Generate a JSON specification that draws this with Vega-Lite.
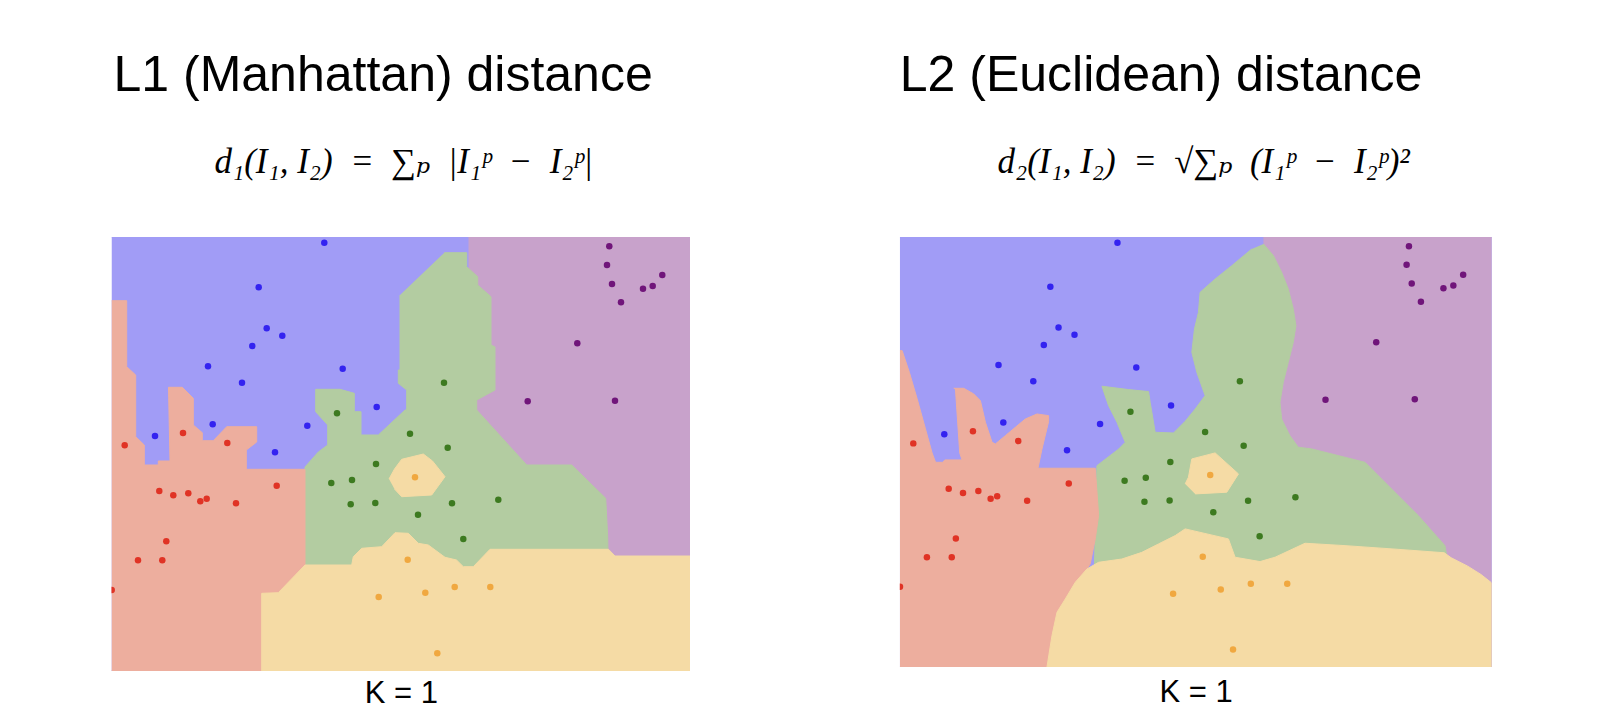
{
  "$schema": "https://vega.github.io/schema/vega-lite/v6.json",
  "background": "white",
  "padding": {"left": 111.5, "top": 51, "right": 0, "bottom": 0},
  "autosize": {"type": "pad"},
  "spacing": 209.3,
  "config": {"view": {"stroke": null}},
  "datasets": {
    "pts": [
      {"c": "blue", "x": 212.8, "y": 5.7}, {"c": "blue", "x": 147.2, "y": 50.3}, {"c": "blue", "x": 155.2, "y": 91.3}, {"c": "blue", "x": 170.8, "y": 98.7}, {"c": "blue", "x": 140.8, "y": 109}, {"c": "blue", "x": 96.5, "y": 129.3}, {"c": "blue", "x": 231.2, "y": 131.7}, {"c": "blue", "x": 130.5, "y": 145.7}, {"c": "blue", "x": 265.2, "y": 170}, {"c": "blue", "x": 101.2, "y": 187.3}, {"c": "blue", "x": 195.8, "y": 188.7}, {"c": "blue", "x": 43.5, "y": 199}, {"c": "blue", "x": 163.5, "y": 215.3},
      {"c": "purple", "x": 497.8, "y": 9.3}, {"c": "purple", "x": 495.5, "y": 28}, {"c": "purple", "x": 500.5, "y": 47}, {"c": "purple", "x": 550.8, "y": 38}, {"c": "purple", "x": 541.2, "y": 49}, {"c": "purple", "x": 531.5, "y": 51.7}, {"c": "purple", "x": 509.5, "y": 65.3}, {"c": "purple", "x": 465.8, "y": 106.3}, {"c": "purple", "x": 416.2, "y": 164.3}, {"c": "purple", "x": 503.5, "y": 163.7},
      {"c": "green", "x": 225.5, "y": 176.3}, {"c": "green", "x": 332.5, "y": 145.7}, {"c": "green", "x": 298.5, "y": 196.7}, {"c": "green", "x": 336.2, "y": 210.7}, {"c": "green", "x": 264.5, "y": 227}, {"c": "green", "x": 219.8, "y": 246}, {"c": "green", "x": 240.5, "y": 243}, {"c": "green", "x": 239.2, "y": 267.3}, {"c": "green", "x": 263.8, "y": 266}, {"c": "green", "x": 340.5, "y": 266.3}, {"c": "green", "x": 306.5, "y": 277.7}, {"c": "green", "x": 386.8, "y": 262.7}, {"c": "green", "x": 351.8, "y": 302},
      {"c": "red", "x": 13.2, "y": 208.3}, {"c": "red", "x": 71.5, "y": 196}, {"c": "red", "x": 115.8, "y": 206}, {"c": "red", "x": 47.8, "y": 254}, {"c": "red", "x": 61.8, "y": 258.3}, {"c": "red", "x": 76.8, "y": 256.3}, {"c": "red", "x": 88.8, "y": 264.3}, {"c": "red", "x": 95.2, "y": 261.7}, {"c": "red", "x": 124.5, "y": 266.3}, {"c": "red", "x": 165.2, "y": 248.7}, {"c": "red", "x": 54.8, "y": 304.3}, {"c": "red", "x": 26.5, "y": 323.3}, {"c": "red", "x": 50.8, "y": 323.3}, {"c": "red", "x": 0.2, "y": 353},
      {"c": "orange", "x": 303.5, "y": 240.3}, {"c": "orange", "x": 296.2, "y": 322.7}, {"c": "orange", "x": 313.8, "y": 355.7}, {"c": "orange", "x": 343.2, "y": 350}, {"c": "orange", "x": 378.8, "y": 350}, {"c": "orange", "x": 325.8, "y": 416.3}, {"c": "orange", "x": 267.2, "y": 360}
    ],
    "l1": [
      {"r": "a", "i": 0, "x": 0, "y": 0}, {"r": "a", "i": 1, "x": 578.5, "y": 0}, {"r": "a", "i": 2, "x": 578.5, "y": 434}, {"r": "a", "i": 3, "x": 0, "y": 434},
      {"r": "b", "i": 0, "x": 357, "y": 0}, {"r": "b", "i": 1, "x": 578.5, "y": 0}, {"r": "b", "i": 2, "x": 578.5, "y": 434}, {"r": "b", "i": 3, "x": 357, "y": 434},
      {"r": "c", "i": 0, "x": 332.8, "y": 15.7}, {"r": "c", "i": 1, "x": 355.2, "y": 15.7}, {"r": "c", "i": 2, "x": 355.2, "y": 29.7}, {"r": "c", "i": 3, "x": 366.2, "y": 39.7}, {"r": "c", "i": 4, "x": 366.2, "y": 48}, {"r": "c", "i": 5, "x": 379.5, "y": 59.7}, {"r": "c", "i": 6, "x": 379.5, "y": 108}, {"r": "c", "i": 7, "x": 383.5, "y": 110}, {"r": "c", "i": 8, "x": 383.5, "y": 153}, {"r": "c", "i": 9, "x": 365.2, "y": 163}, {"r": "c", "i": 10, "x": 365.2, "y": 173}, {"r": "c", "i": 11, "x": 415.2, "y": 228}, {"r": "c", "i": 12, "x": 460.2, "y": 228}, {"r": "c", "i": 13, "x": 494.2, "y": 261.3}, {"r": "c", "i": 14, "x": 496.2, "y": 299.7}, {"r": "c", "i": 15, "x": 497, "y": 340}, {"r": "c", "i": 16, "x": 193.5, "y": 340}, {"r": "c", "i": 17, "x": 193.5, "y": 230}, {"r": "c", "i": 18, "x": 206.8, "y": 215}, {"r": "c", "i": 19, "x": 216.2, "y": 208}, {"r": "c", "i": 20, "x": 216.2, "y": 188}, {"r": "c", "i": 21, "x": 204.2, "y": 174.7}, {"r": "c", "i": 22, "x": 204.2, "y": 152.3}, {"r": "c", "i": 23, "x": 228.5, "y": 152.3}, {"r": "c", "i": 24, "x": 242.8, "y": 156.3}, {"r": "c", "i": 25, "x": 242.8, "y": 174.7}, {"r": "c", "i": 26, "x": 249.5, "y": 174.7}, {"r": "c", "i": 27, "x": 249.5, "y": 198}, {"r": "c", "i": 28, "x": 266.8, "y": 198}, {"r": "c", "i": 29, "x": 293.5, "y": 173}, {"r": "c", "i": 30, "x": 295.2, "y": 173}, {"r": "c", "i": 31, "x": 295.2, "y": 153}, {"r": "c", "i": 32, "x": 286.8, "y": 146.3}, {"r": "c", "i": 33, "x": 286.8, "y": 133}, {"r": "c", "i": 34, "x": 288.5, "y": 133}, {"r": "c", "i": 35, "x": 288.5, "y": 58},
      {"r": "d", "i": 0, "x": 0, "y": 63.7}, {"r": "d", "i": 1, "x": 15.2, "y": 63.7}, {"r": "d", "i": 2, "x": 15.2, "y": 129.7}, {"r": "d", "i": 3, "x": 24.2, "y": 138}, {"r": "d", "i": 4, "x": 24.2, "y": 199.7}, {"r": "d", "i": 5, "x": 32.8, "y": 208}, {"r": "d", "i": 6, "x": 32.8, "y": 228}, {"r": "d", "i": 7, "x": 46.8, "y": 228}, {"r": "d", "i": 8, "x": 46.8, "y": 224}, {"r": "d", "i": 9, "x": 58.5, "y": 224}, {"r": "d", "i": 10, "x": 57, "y": 150.3}, {"r": "d", "i": 11, "x": 70.8, "y": 150.3}, {"r": "d", "i": 12, "x": 81.8, "y": 161.3}, {"r": "d", "i": 13, "x": 81.8, "y": 188}, {"r": "d", "i": 14, "x": 90.8, "y": 195.7}, {"r": "d", "i": 15, "x": 90.8, "y": 203.7}, {"r": "d", "i": 16, "x": 101.8, "y": 203.7}, {"r": "d", "i": 17, "x": 115.2, "y": 189.7}, {"r": "d", "i": 18, "x": 145.2, "y": 189.7}, {"r": "d", "i": 19, "x": 145.2, "y": 205}, {"r": "d", "i": 20, "x": 134.8, "y": 213}, {"r": "d", "i": 21, "x": 134.8, "y": 232.3}, {"r": "d", "i": 22, "x": 193.5, "y": 232.3}, {"r": "d", "i": 23, "x": 193.5, "y": 434}, {"r": "d", "i": 24, "x": 0, "y": 434},
      {"r": "e", "i": 0, "x": 150.2, "y": 434}, {"r": "e", "i": 1, "x": 150.2, "y": 356.3}, {"r": "e", "i": 2, "x": 166.8, "y": 355.7}, {"r": "e", "i": 3, "x": 193.5, "y": 328}, {"r": "e", "i": 4, "x": 240.2, "y": 328}, {"r": "e", "i": 5, "x": 241.8, "y": 319.7}, {"r": "e", "i": 6, "x": 250.2, "y": 311.3}, {"r": "e", "i": 7, "x": 270.2, "y": 309.7}, {"r": "e", "i": 8, "x": 283.5, "y": 295.7}, {"r": "e", "i": 9, "x": 296.8, "y": 296.3}, {"r": "e", "i": 10, "x": 306.8, "y": 306.3}, {"r": "e", "i": 11, "x": 316.8, "y": 308}, {"r": "e", "i": 12, "x": 333.5, "y": 320.3}, {"r": "e", "i": 13, "x": 345, "y": 323}, {"r": "e", "i": 14, "x": 351.8, "y": 329.7}, {"r": "e", "i": 15, "x": 361.8, "y": 329.7}, {"r": "e", "i": 16, "x": 378.5, "y": 312.3}, {"r": "e", "i": 17, "x": 497, "y": 312.3}, {"r": "e", "i": 18, "x": 503.5, "y": 319}, {"r": "e", "i": 19, "x": 578.5, "y": 319}, {"r": "e", "i": 20, "x": 578.5, "y": 434},
      {"r": "f", "i": 0, "x": 277.5, "y": 242}, {"r": "f", "i": 1, "x": 283, "y": 232}, {"r": "f", "i": 2, "x": 290.2, "y": 222.3}, {"r": "f", "i": 3, "x": 311.8, "y": 217}, {"r": "f", "i": 4, "x": 321, "y": 224}, {"r": "f", "i": 5, "x": 333.5, "y": 239.7}, {"r": "f", "i": 6, "x": 320.2, "y": 258}, {"r": "f", "i": 7, "x": 290.2, "y": 259.7}, {"r": "f", "i": 8, "x": 283, "y": 252}
    ],
    "l2": [
      {"r": "a", "i": 0, "x": 0, "y": 0}, {"r": "a", "i": 1, "x": 578.5, "y": 0}, {"r": "a", "i": 2, "x": 578.5, "y": 434}, {"r": "a", "i": 3, "x": 0, "y": 434},
      {"r": "b", "i": 0, "x": 355.5, "y": 0}, {"r": "b", "i": 1, "x": 578.5, "y": 0}, {"r": "b", "i": 2, "x": 578.5, "y": 434}, {"r": "b", "i": 3, "x": 355.5, "y": 434},
      {"r": "c", "i": 0, "x": 355.5, "y": 7}, {"r": "c", "i": 1, "x": 365.3, "y": 18.8}, {"r": "c", "i": 2, "x": 373.3, "y": 35.6}, {"r": "c", "i": 3, "x": 379.8, "y": 52.5}, {"r": "c", "i": 4, "x": 384.7, "y": 72.6}, {"r": "c", "i": 5, "x": 387.3, "y": 89.5}, {"r": "c", "i": 6, "x": 384.7, "y": 106.3}, {"r": "c", "i": 7, "x": 379.8, "y": 126.5}, {"r": "c", "i": 8, "x": 374.9, "y": 146.7}, {"r": "c", "i": 9, "x": 371.7, "y": 166.8}, {"r": "c", "i": 10, "x": 373.3, "y": 183.7}, {"r": "c", "i": 11, "x": 381.4, "y": 200.5}, {"r": "c", "i": 12, "x": 389.6, "y": 212.2}, {"r": "c", "i": 13, "x": 402.7, "y": 213.9}, {"r": "c", "i": 14, "x": 454.8, "y": 227.4}, {"r": "c", "i": 15, "x": 474.3, "y": 247.6}, {"r": "c", "i": 16, "x": 506.9, "y": 281.2}, {"r": "c", "i": 17, "x": 533, "y": 311.5}, {"r": "c", "i": 18, "x": 536, "y": 330}, {"r": "c", "i": 19, "x": 536, "y": 345}, {"r": "c", "i": 20, "x": 190, "y": 345}, {"r": "c", "i": 21, "x": 192.7, "y": 230.8}, {"r": "c", "i": 22, "x": 214, "y": 214}, {"r": "c", "i": 23, "x": 220.4, "y": 207.2}, {"r": "c", "i": 24, "x": 212.3, "y": 187}, {"r": "c", "i": 25, "x": 204.1, "y": 170.2}, {"r": "c", "i": 26, "x": 197.6, "y": 150.6}, {"r": "c", "i": 27, "x": 223.7, "y": 154}, {"r": "c", "i": 28, "x": 243.2, "y": 156}, {"r": "c", "i": 29, "x": 244.8, "y": 166.9}, {"r": "c", "i": 30, "x": 249.7, "y": 197.1}, {"r": "c", "i": 31, "x": 267.6, "y": 197.8}, {"r": "c", "i": 32, "x": 279, "y": 186}, {"r": "c", "i": 33, "x": 288.8, "y": 173.6}, {"r": "c", "i": 34, "x": 298.5, "y": 160.1}, {"r": "c", "i": 35, "x": 290.4, "y": 136.6}, {"r": "c", "i": 36, "x": 285.5, "y": 116.3}, {"r": "c", "i": 37, "x": 288.1, "y": 92.8}, {"r": "c", "i": 38, "x": 292, "y": 76}, {"r": "c", "i": 39, "x": 293.6, "y": 55.8}, {"r": "c", "i": 40, "x": 308.3, "y": 42.4}, {"r": "c", "i": 41, "x": 324.6, "y": 28.9}, {"r": "c", "i": 42, "x": 344.1, "y": 12.1},
      {"r": "d", "i": 0, "x": 0, "y": 114.7}, {"r": "d", "i": 1, "x": 2.3, "y": 114.7}, {"r": "d", "i": 2, "x": 9.4, "y": 136.7}, {"r": "d", "i": 3, "x": 17, "y": 163.5}, {"r": "d", "i": 4, "x": 25.1, "y": 193.7}, {"r": "d", "i": 5, "x": 31.6, "y": 218}, {"r": "d", "i": 6, "x": 35, "y": 227.4}, {"r": "d", "i": 7, "x": 42, "y": 227.4}, {"r": "d", "i": 8, "x": 44, "y": 225}, {"r": "d", "i": 9, "x": 60.9, "y": 225}, {"r": "d", "i": 10, "x": 58.6, "y": 218}, {"r": "d", "i": 11, "x": 54.4, "y": 153.4}, {"r": "d", "i": 12, "x": 52.8, "y": 152.7}, {"r": "d", "i": 13, "x": 62.5, "y": 152.7}, {"r": "d", "i": 14, "x": 72.3, "y": 158.4}, {"r": "d", "i": 15, "x": 78.8, "y": 165.2}, {"r": "d", "i": 16, "x": 83.7, "y": 187}, {"r": "d", "i": 17, "x": 90.2, "y": 207.2}, {"r": "d", "i": 18, "x": 93.4, "y": 208.9}, {"r": "d", "i": 19, "x": 103.2, "y": 200.5}, {"r": "d", "i": 20, "x": 122.7, "y": 183.7}, {"r": "d", "i": 21, "x": 134.1, "y": 178.6}, {"r": "d", "i": 22, "x": 145.5, "y": 180.3}, {"r": "d", "i": 23, "x": 145.5, "y": 186.3}, {"r": "d", "i": 24, "x": 139, "y": 214}, {"r": "d", "i": 25, "x": 135.1, "y": 233.4}, {"r": "d", "i": 26, "x": 191.1, "y": 233.4}, {"r": "d", "i": 27, "x": 194.4, "y": 281.1}, {"r": "d", "i": 28, "x": 191.1, "y": 304.7}, {"r": "d", "i": 29, "x": 186.2, "y": 329.9}, {"r": "d", "i": 30, "x": 183, "y": 335}, {"r": "d", "i": 31, "x": 183, "y": 434}, {"r": "d", "i": 32, "x": 0, "y": 434},
      {"r": "e", "i": 0, "x": 143.9, "y": 434}, {"r": "e", "i": 1, "x": 148.8, "y": 402.2}, {"r": "e", "i": 2, "x": 153.7, "y": 378.7}, {"r": "e", "i": 3, "x": 161.8, "y": 365.3}, {"r": "e", "i": 4, "x": 171.6, "y": 348.4}, {"r": "e", "i": 5, "x": 183, "y": 335}, {"r": "e", "i": 6, "x": 194.4, "y": 328.3}, {"r": "e", "i": 7, "x": 217.1, "y": 325}, {"r": "e", "i": 8, "x": 236.6, "y": 318.3}, {"r": "e", "i": 9, "x": 252.9, "y": 309.8}, {"r": "e", "i": 10, "x": 269.2, "y": 301.4}, {"r": "e", "i": 11, "x": 279, "y": 294.6}, {"r": "e", "i": 12, "x": 321.3, "y": 304.7}, {"r": "e", "i": 13, "x": 327.8, "y": 323.2}, {"r": "e", "i": 14, "x": 352.2, "y": 327.6}, {"r": "e", "i": 15, "x": 366.9, "y": 323.2}, {"r": "e", "i": 16, "x": 396.2, "y": 309.1}, {"r": "e", "i": 17, "x": 435.3, "y": 311.5}, {"r": "e", "i": 18, "x": 488, "y": 315.3}, {"r": "e", "i": 19, "x": 532.3, "y": 318.7}, {"r": "e", "i": 20, "x": 539, "y": 323.7}, {"r": "e", "i": 21, "x": 555.2, "y": 332.2}, {"r": "e", "i": 22, "x": 568.2, "y": 340.6}, {"r": "e", "i": 23, "x": 578.5, "y": 349}, {"r": "e", "i": 24, "x": 578.5, "y": 434},
      {"r": "f", "i": 0, "x": 279, "y": 249.2}, {"r": "f", "i": 1, "x": 282.2, "y": 242.5}, {"r": "f", "i": 2, "x": 285.5, "y": 224}, {"r": "f", "i": 3, "x": 308.3, "y": 217.9}, {"r": "f", "i": 4, "x": 331.1, "y": 239.1}, {"r": "f", "i": 5, "x": 319.7, "y": 257.6}, {"r": "f", "i": 6, "x": 288.8, "y": 259.3}
    ]
  },
  "hconcat": [
    {
      "title": {"text": "L1 (Manhattan) distance", "anchor": "start", "font": "Liberation Sans", "fontSize": 50, "fontWeight": "normal", "color": "black", "offset": 44, "dx": 2},
      "vconcat": [
        {
          "title": {"text": "d₁(I₁, I₂)\u2002=\u2002∑ₚ\u2002|I₁ᵖ\u2002−\u2002I₂ᵖ|", "anchor": "middle", "font": "Liberation Serif, DejaVu Serif", "fontStyle": "italic", "fontSize": 35, "fontWeight": "normal", "color": "black", "offset": 57, "dx": 3},
          "width": 578.5,
          "height": 434,
          "encoding": {
            "x": {"field": "x", "type": "quantitative", "scale": {"domain": [0, 578.5], "nice": false, "zero": false},
                  "axis": {"title": "K = 1", "labels": false, "ticks": false, "domain": false, "grid": false, "titleFont": "Liberation Sans", "titleFontSize": 31, "titleFontWeight": "normal", "titleColor": "black", "titlePadding": 7}},
            "y": {"field": "y", "type": "quantitative", "scale": {"domain": [0, 434], "nice": false, "zero": false, "reverse": true}, "axis": null}
          },
          "layer": [
            {
              "data": {"name": "l1"},
              "mark": {"type": "line", "strokeWidth": 1, "clip": true},
              "encoding": {
                "order": {"field": "i", "type": "quantitative"},
                "fill": {"field": "r", "type": "nominal", "scale": {"domain": ["a", "b", "c", "d", "e", "f"], "range": ["#A19CF6", "#C8A2CB", "#B3CCA1", "#EDAE9E", "#F5DBA5", "#F5DBA5"]}, "legend": null},
                "stroke": {"field": "r", "type": "nominal", "scale": {"domain": ["a", "b", "c", "d", "e", "f"], "range": ["#A19CF6", "#C8A2CB", "#B3CCA1", "#EDAE9E", "#F5DBA5", "#F5DBA5"]}, "legend": null}
              }
            },
            {
              "data": {"name": "pts"},
              "mark": {"type": "circle", "size": 42, "opacity": 1, "clip": true},
              "encoding": {
                "color": {"field": "c", "type": "nominal", "scale": {"domain": ["blue", "purple", "green", "red", "orange"], "range": ["#3323F0", "#70157A", "#3D7A20", "#E03325", "#F0A840"]}, "legend": null}
              }
            }
          ]
        }
      ]
    },
    {
      "title": {"text": "L2 (Euclidean) distance", "anchor": "start", "font": "Liberation Sans", "fontSize": 50, "fontWeight": "normal", "color": "black", "offset": 44, "dx": 0},
      "vconcat": [
        {
          "title": {"text": "d₂(I₁, I₂)\u2002=\u2002√∑ₚ\u2002(I₁ᵖ\u2002−\u2002I₂ᵖ)²", "anchor": "middle", "font": "Liberation Serif, DejaVu Serif", "fontStyle": "italic", "fontSize": 35, "fontWeight": "normal", "color": "black", "offset": 57, "dx": 8},
          "width": 591.7,
          "height": 430,
          "encoding": {
            "x": {"field": "x", "type": "quantitative", "scale": {"domain": [0, 578.5], "nice": false, "zero": false},
                  "axis": {"title": "K = 1", "labels": false, "ticks": false, "domain": false, "grid": false, "titleFont": "Liberation Sans", "titleFontSize": 31, "titleFontWeight": "normal", "titleColor": "black", "titlePadding": 10}},
            "y": {"field": "y", "type": "quantitative", "scale": {"domain": [0, 434], "nice": false, "zero": false, "reverse": true}, "axis": null}
          },
          "layer": [
            {
              "data": {"name": "l2"},
              "mark": {"type": "line", "strokeWidth": 1, "clip": true},
              "encoding": {
                "order": {"field": "i", "type": "quantitative"},
                "fill": {"field": "r", "type": "nominal", "scale": {"domain": ["a", "b", "c", "d", "e", "f"], "range": ["#A19CF6", "#C8A2CB", "#B3CCA1", "#EDAE9E", "#F5DBA5", "#F5DBA5"]}, "legend": null},
                "stroke": {"field": "r", "type": "nominal", "scale": {"domain": ["a", "b", "c", "d", "e", "f"], "range": ["#A19CF6", "#C8A2CB", "#B3CCA1", "#EDAE9E", "#F5DBA5", "#F5DBA5"]}, "legend": null}
              }
            },
            {
              "data": {"name": "pts"},
              "mark": {"type": "circle", "size": 42, "opacity": 1, "clip": true},
              "encoding": {
                "color": {"field": "c", "type": "nominal", "scale": {"domain": ["blue", "purple", "green", "red", "orange"], "range": ["#3323F0", "#70157A", "#3D7A20", "#E03325", "#F0A840"]}, "legend": null}
              }
            }
          ]
        }
      ]
    }
  ]
}
